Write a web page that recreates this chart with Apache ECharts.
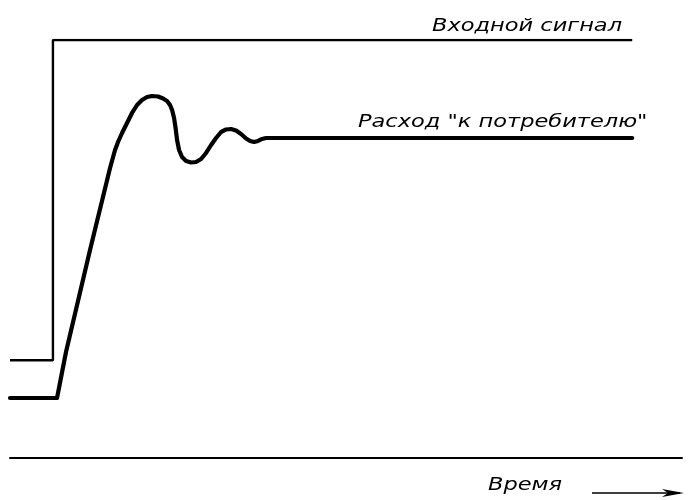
<!DOCTYPE html>
<html lang="ru">
<head>
    <meta charset="UTF-8">
    <title>Входной сигнал</title>
    <script src="https://cdn.jsdelivr.net/npm/echarts@6/dist/echarts.min.js"></script>
    <style>
        html,body{margin:0;padding:0;background:#fff}
        #main{width:692px;height:500px}
    </style>
</head>
<body>
    <div id="main"></div>
    <script>
        // время (усл. ед.) и уровень сигнала (усл. ед.)
        var inputTime  = [0, 6.9, 6.9, 100];
        var inputLevel = [23.4, 23.4, 100, 100];

        var flowTime  = [0, 7.56, 9.00, 12.86, 16.08, 16.88, 17.36, 18.01, 18.81, 19.61, 20.42, 21.22, 22.03, 22.83, 23.79, 24.60, 25.24, 25.72, 26.05, 26.37, 26.61, 26.85, 27.17, 27.65, 28.30, 29.10, 29.90, 30.71, 31.51, 32.32, 33.12, 33.92, 34.73, 35.53, 36.33, 37.14, 37.94, 38.59, 39.23, 39.87, 40.51, 41.16, 100];
        var flowLevel = [14.35, 14.35, 25.36, 49.76, 69.38, 73.68, 75.60, 77.75, 80.14, 82.54, 84.45, 85.65, 86.36, 86.60, 86.48, 86.00, 85.41, 84.45, 83.25, 81.34, 78.95, 76.08, 73.68, 72.01, 71.05, 70.69, 70.81, 71.53, 72.97, 74.88, 76.56, 77.99, 78.59, 78.71, 78.35, 77.51, 76.44, 75.84, 75.60, 75.84, 76.32, 76.56, 76.56];

        function pairs(xs, ys) {
            var out = [];
            for (var i = 0; i < xs.length; i++) out.push([xs[i], ys[i]]);
            return out;
        }

        function label(text, x, y) {
            return {
                type: 'text', x: x, y: y, scaleX: 1.25,
                style: {text: text, fontFamily: 'DejaVu Sans', fontStyle: 'italic', fontSize: 18, fill: '#000'}
            };
        }

        var chart = echarts.init(document.getElementById('main'));
        var option = {
            animation: false,
            grid: {left: 10, right: 10, top: 40, bottom: 42},
            xAxis: {
                type: 'value', min: 0, max: 108,
                axisLine: {show: true, onZero: false, lineStyle: {color: '#000', width: 2}},
                axisTick: {show: false}, axisLabel: {show: false}, splitLine: {show: false}
            },
            yAxis: {
                type: 'value', min: 0, max: 100, show: false
            },
            series: [
                {
                    name: 'Входной сигнал', type: 'line', showSymbol: false,
                    data: pairs(inputTime, inputLevel),
                    lineStyle: {color: '#000', width: 2.4}
                },
                {
                    name: 'Расход', type: 'line', showSymbol: false, smooth: false,
                    data: pairs(flowTime, flowLevel),
                    lineStyle: {color: '#000', width: 4.2, join: 'round', cap: 'round'}
                }
            ],
            graphic: [
                label('Входной сигнал', 432, 17),
                label('Расход "к потребителю"', 358, 113),
                label('Время', 488, 476),
                {type: 'line', shape: {x1: 592, y1: 493, x2: 680, y2: 493}, style: {stroke: '#000', lineWidth: 1.5}},
                {type: 'polygon', shape: {points: [[662, 489], [684, 493], [662, 497], [668, 493]]}, style: {fill: '#000'}}
            ]
        };
        chart.setOption(option);
    </script>
</body>
</html>
